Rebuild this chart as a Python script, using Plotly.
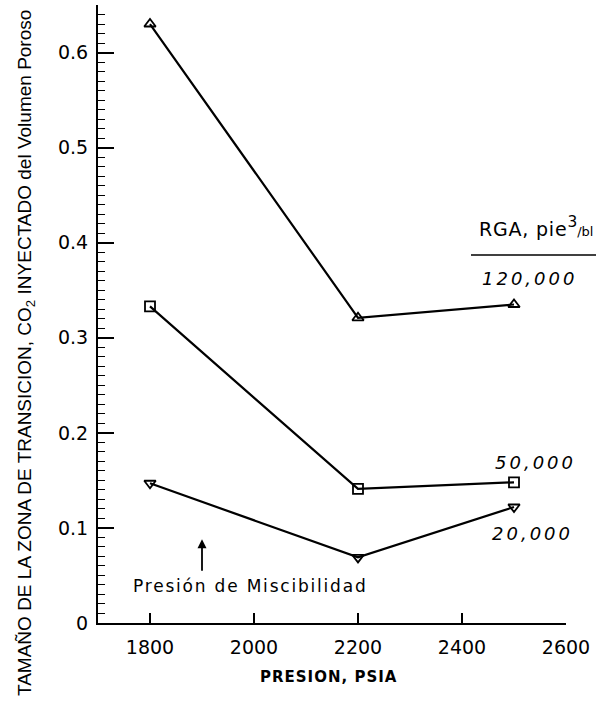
import plotly.graph_objects as go

presion = [1800, 2200, 2500]
rga_120000 = [0.630, 0.321, 0.335]
rga_50000 = [0.333, 0.141, 0.148]
rga_20000 = [0.147, 0.069, 0.122]

x_ticks = [1800, 2000, 2200, 2400, 2600]

series = [
    ("120,000", rga_120000, "triangle-up-open"),
    ("50,000", rga_50000, "square-open"),
    ("20,000", rga_20000, "triangle-down-open"),
]

W, H = 613, 709
L, R, T, B = 98, 47, 5, 86
pw, ph = W - L - R, H - T - B


def px(p):
    return (p - L) / pw


def py(p):
    return (H - B - p) / ph


fig = go.Figure()
for name, vals, sym in series:
    fig.add_trace(go.Scatter(
        x=presion, y=vals, mode="lines+markers", name=name,
        line=dict(color="black", width=2.2),
        marker=dict(symbol=sym, size=10, color="black", line=dict(width=1.8, color="black")),
        showlegend=False, cliponaxis=False,
    ))

# invisible trace to carry the overlaid minor-tick axis
fig.add_trace(go.Scatter(x=presion, y=rga_20000, yaxis="y2", mode="none",
                         showlegend=False, hoverinfo="skip"))

font_main = "DejaVu Sans"

fig.update_layout(
    width=W, height=H, autosize=False,
    margin=dict(l=L, r=R, t=T, b=B),
    paper_bgcolor="white", plot_bgcolor="white",
    font=dict(family=font_main, color="black"),
    xaxis=dict(
        range=[1700, 2600], tickmode="array", tickvals=x_ticks, ticks="inside", ticklen=10,
        tickwidth=1.6, tickcolor="black", showline=True, linecolor="black", linewidth=2,
        showgrid=False, zeroline=False, tickfont=dict(size=19, family=font_main),
        ticklabelstandoff=6,
    ),
    yaxis=dict(
        range=[0, 0.65], tickmode="linear", tick0=0, dtick=0.1, ticks="inside",
        ticklen=16, tickwidth=1.6, tickcolor="black", showline=True, linecolor="black",
        linewidth=2, showgrid=False, zeroline=False,
        tickfont=dict(size=19, family=font_main), ticklabelstandoff=4,
    ),
    yaxis2=dict(
        overlaying="y", side="left", anchor="x", range=[0, 0.65], tickmode="linear",
        tick0=0, dtick=0.01, ticks="inside", ticklen=7, tickwidth=1.3, tickcolor="black",
        showticklabels=False, showgrid=False, zeroline=False, showline=False,
    ),
)

# X-axis title
fig.add_annotation(
    xref="paper", yref="paper", x=px(328), y=py(677), showarrow=False,
    text="<b><span style='letter-spacing:1px'>PRESION, PSIA</span></b>",
    font=dict(size=15, family=font_main),
    xanchor="center", yanchor="middle",
)

# Y-axis title as rotated annotation
fig.add_annotation(
    xref="paper", yref="paper", x=px(26), y=py(353), showarrow=False,
    text="TAMAÑO DE LA ZONA DE TRANSICION, CO<sub>2</sub> INYECTADO del Volumen Poroso",
    textangle=-90, font=dict(size=19, family="Liberation Sans"),
    xanchor="center", yanchor="middle",
)

# Legend header
fig.add_annotation(
    xref="paper", yref="paper", x=px(536), y=py(226), showarrow=False,
    text="<span style='letter-spacing:0.8px'>RGA, pie</span><span style='font-size:22px'><sup>3</sup></span><span style='font-size:13px'>/bl</span>",
    font=dict(size=19, family=font_main), xanchor="center", yanchor="middle",
)
fig.add_shape(type="line", xref="paper", yref="paper",
              x0=px(471), x1=px(596), y0=py(255), y1=py(255),
              line=dict(color="black", width=1.5))

labels = [("120,000", 529, 278), ("50,000", 535, 462), ("20,000", 532, 533)]
for txt, lx, ly in labels:
    fig.add_annotation(
        xref="paper", yref="paper", x=px(lx), y=py(ly), showarrow=False,
        text=f"<i><span style='letter-spacing:3px'>{txt}</span></i>",
        font=dict(size=18, family=font_main),
        xanchor="center", yanchor="middle",
    )

# Miscibility pressure arrow and label
fig.add_annotation(
    x=1900, y=0.088, xref="x", yref="y", text="", showarrow=True,
    arrowhead=2, arrowsize=1, arrowwidth=1.8, arrowcolor="black",
    ax=0, ay=33,
)
fig.add_annotation(
    xref="paper", yref="paper", x=px(131), y=py(586), showarrow=False,
    text="<span style='letter-spacing:1.8px'>Presión de Miscibilidad</span>",
    font=dict(size=17, family=font_main),
    xanchor="left", yanchor="middle",
)

fig.write_html(
    "out.html",
    config={"displayModeBar": False},
    post_script="document.body.style.margin='0';document.body.style.padding='0';",
)
